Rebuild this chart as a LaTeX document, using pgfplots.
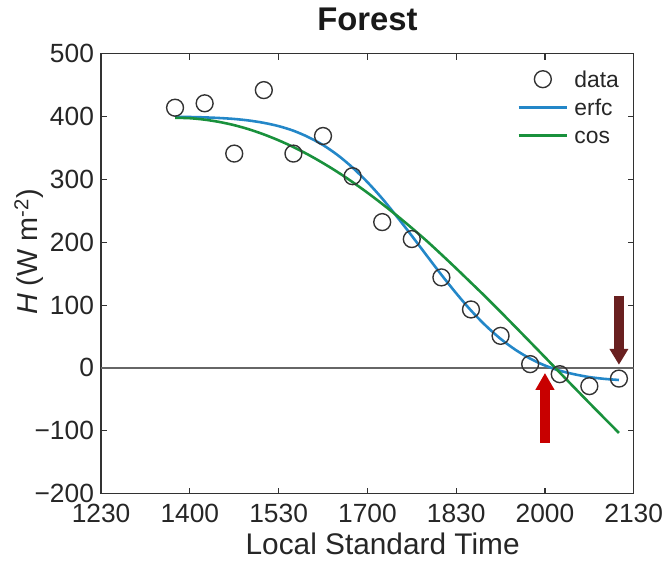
\documentclass[border=0pt]{standalone}
\usepackage{pgfplots}
\pgfplotsset{compat=1.18}
\usepackage{fontspec}
\setmainfont{Liberation Sans}
\usetikzlibrary{arrows.meta}
\definecolor{erfcblue}{RGB}{35,135,200}
\definecolor{cosgreen}{RGB}{25,145,60}
\definecolor{arrred}{RGB}{200,0,0}
\definecolor{arrbrown}{RGB}{105,32,32}
\definecolor{axgray}{RGB}{50,50,50}

\pgfplotstableread{
t H
13.75 414
14.25 421
14.75 341
15.25 442
15.75 341
16.25 369
16.75 305
17.25 232
17.75 205
18.25 144
18.75 93
19.25 51
19.75 6
20.25 -10
20.75 -29
21.25 -17
}\datatab

\pgfplotstableread{
t H
13.75 399.6
14.00 399.2
14.25 398.6
14.50 397.6
14.75 396.1
15.00 393.6
15.25 389.9
15.50 384.7
15.75 377.4
16.00 367.3
16.25 354.6
16.50 338.4
16.75 318.7
17.00 295.6
17.25 269.5
17.50 240.5
17.75 210.2
18.00 179.0
18.25 148.2
18.50 118.8
18.75 91.4
19.00 67.2
19.25 46.3
19.50 28.9
19.75 14.8
20.00 3.8
20.25 -4.4
20.50 -10.2
20.75 -14.6
21.00 -17.4
21.25 -19.2
}\erfctab

\pgfplotstableread{
t H
13.75 398.0
14.00 397.3
14.25 395.0
14.50 391.3
14.75 386.2
15.00 379.6
15.25 371.5
15.50 362.1
15.75 351.4
16.00 339.3
16.25 325.9
16.50 311.4
16.75 295.6
17.00 278.8
17.25 260.9
17.50 242.2
17.75 222.6
18.00 202.2
18.25 180.5
18.50 158.3
18.75 135.6
19.00 112.8
19.25 89.2
19.50 65.3
19.75 41.2
20.00 17.0
20.25 -7.4
20.50 -31.7
20.75 -55.8
21.00 -79.7
21.25 -103.4
}\costab

\begin{document}
\begin{tikzpicture}
\begin{axis}[
  name=ax,
  scale only axis,
  width=536pt, height=442.7pt,
  xmin=12.5, xmax=21.5, ymin=-200, ymax=500,
  xtick={12.5,14,15.5,17,18.5,20,21.5},
  xticklabels={1230,1400,1530,1700,1830,2000,2130},
  ytick={-200,-100,0,100,200,300,400,500},
  yticklabels={−200,−100,0,100,200,300,400,500},
  tick pos=both, tick align=inside,
  major tick length=6pt,
  axis line style={axgray, line width=1.3pt},
  every tick/.style={axgray, line width=1.1pt},
  ticklabel style={font=\fontsize{26.5}{30}\selectfont, text=black!85},
  xticklabel style={yshift=-5pt, inner sep=5pt},
  yticklabel style={inner sep=7pt},
  title={\bfseries Forest},
  title style={font=\fontsize{33}{38}\selectfont, at={(axis description cs:0.5,1)}, anchor=base, yshift=17pt, inner sep=0pt, text=black!90},
  xlabel={Local Standard Time},
  xlabel style={font=\fontsize{30}{34}\selectfont, at={(axis description cs:0.5286,0)}, anchor=base, yshift=-61.5pt, inner sep=0pt, text=black!85},
  ylabel={\textit{H} (W m\textsuperscript{-2})},
  ylabel style={font=\fontsize{29}{34}\selectfont, at={(axis description cs:-0.1356,0.549)}, anchor=center, rotate=0, inner sep=0pt, text=black!85},
  legend style={draw=none, fill=none, inner sep=0pt, at={(axis description cs:0.9726,0.9616)}, anchor=north east,
    font=\fontsize{23}{27}\selectfont, nodes={inner sep=0pt, text height=16pt, text depth=0pt, text=black!85}, row sep=12pt},
  legend cell align=left,
  /tikz/every odd column/.append style={column sep=6pt},
  legend image code/.code={\draw[mark repeat=2,mark phase=2,#1] plot coordinates {(0pt,0pt) (24.5pt,0pt) (49pt,0pt)};},
]
\addplot[black!60, line width=1.2pt, forget plot] coordinates {(12.5,0) (21.5,0)};
\addplot[only marks, mark=o, mark size=8.5pt, black!80, line width=1.4pt] table[x=t, y=H] {\datatab};
\addlegendentry{data}
\addplot[erfcblue, line width=2.6pt, smooth] table[x=t, y=H] {\erfctab};
\addlegendentry{erfc}
\addplot[cosgreen, line width=2.6pt, smooth] table[x=t, y=H] {\costab};
\addlegendentry{cos}
\draw[arrred, line width=10pt, -{Triangle[width=18pt,length=17pt]}] (axis cs:20,-119) -- (axis cs:20,-8);
\draw[arrbrown, line width=10pt, -{Triangle[width=18pt,length=16pt]}] (axis cs:21.25,115) -- (axis cs:21.25,5);
\end{axis}
\path ([xshift=-101.7pt,yshift=-67.3pt]ax.south west) rectangle ([xshift=30.3pt,yshift=54pt]ax.north east);
\end{tikzpicture}
\end{document}
